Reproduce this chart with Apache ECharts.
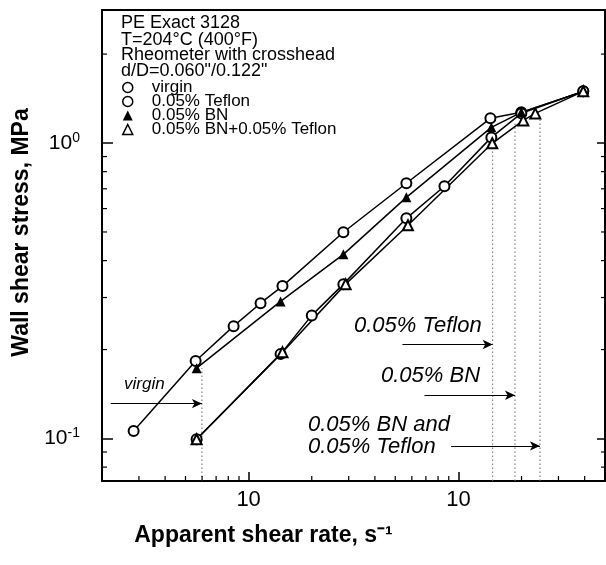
<!DOCTYPE html>
<html><head><meta charset="utf-8">
<script src="https://cdn.jsdelivr.net/npm/echarts@6/dist/echarts.min.js"></script>
<style>html,body{margin:0;padding:0;background:#fff}#c{width:606px;height:565px}</style>
</head><body><div id="c"></div>
<script>
// ---- data (apparent shear rate s^-1, wall shear stress MPa) ----
const virginX   = [28.3, 55.9, 84.8, 114, 145, 283, 565, 1421, 1995, 3939];
const virginY   = [0.106, 0.183, 0.240, 0.287, 0.328, 0.499, 0.731, 1.212, 1.27, 1.496];
const teflonX   = [56.5, 142, 200, 283, 565, 858, 1436, 1995, 3939];
const teflonY   = [0.0994, 0.193, 0.261, 0.333, 0.556, 0.714, 1.045, 1.26, 1.496];
const bnX       = [56.5, 142, 283, 565, 1436, 1995, 3939];
const bnY       = [0.173, 0.291, 0.420, 0.655, 1.130, 1.27, 1.496];
const bnTefX    = [56.5, 145, 290, 575, 1450, 2040, 2326, 3939];
const bnTefY    = [0.0994, 0.196, 0.333, 0.527, 0.998, 1.193, 1.26, 1.496];
// critical shear rates (dotted lines) and their top stress
const critX     = [59.9, 1457, 1862, 2449];
const critTopY  = [0.173, 0.969, 1.163, 1.24];
// annotation arrows: start x and y (end x = critical shear rate)
const arrowX0   = [22, 541, 689, 923];
const arrowY    = [0.1313, 0.208, 0.1401, 0.0944];
// axes
const X_MIN = 20, X_MAX = 5000, Y_MIN = 0.0718, Y_MAX = 2.82;
const xMajor = [100, 1000];
const xMajorLabels = ['10', '10'];
const yMajor = [1, 0.1];
const yMajorLabels = ['{b|10}{s|0}', '{b|10}{s|-1}'];
const xMinor = [30, 40, 50, 60, 70, 80, 90, 200, 300, 400, 500, 600, 700, 800, 900, 2000, 3000, 4000];
const yMinor = [0.08, 0.09, 0.2, 0.3, 0.4, 0.5, 0.6, 0.7, 0.8, 0.9, 2];

const FONT = "'Liberation Sans', Arial, sans-serif";
const zip = (a, b) => a.map((v, i) => [v, b[i]]);
const isMajor = (v, arr) => arr.findIndex(m => Math.abs(Math.log10(v) - Math.log10(m)) < 1e-6);

const chart = echarts.init(document.getElementById('c'), null, {renderer: 'canvas'});

const lineBase = {
  type: 'line', xAxisIndex: 0, yAxisIndex: 0, symbolSize: 10,
  lineStyle: {color: '#000', width: 1.5}, z: 3, animation: false
};

// minor tick data: [x, y, side]  side 0=bottom,1=left,2=right
const minorData = [];
xMinor.forEach(v => minorData.push([v, Y_MIN, 0]));
yMinor.forEach(v => { minorData.push([X_MIN, v, 1]); minorData.push([X_MAX, v, 2]); });

const series = [
  Object.assign({}, lineBase, {name: 'virgin', data: zip(virginX, virginY), symbol: 'emptyCircle',
    itemStyle: {color: '#000', borderWidth: 1.5}}),
  Object.assign({}, lineBase, {name: '0.05% Teflon', data: zip(teflonX, teflonY), symbol: 'emptyCircle',
    itemStyle: {color: '#000', borderWidth: 1.5}}),
  Object.assign({}, lineBase, {name: '0.05% BN', data: zip(bnX, bnY), symbol: 'triangle',
    itemStyle: {color: '#000'}}),
  Object.assign({}, lineBase, {name: '0.05% BN+0.05% Teflon', data: zip(bnTefX, bnTefY), symbol: 'emptyTriangle',
    itemStyle: {color: '#000', borderWidth: 1.5}}),
  {
    type: 'custom', name: 'minorTicks', silent: true, clip: false, z: 5, animation: false,
    data: minorData, encode: {x: 0, y: 1},
    renderItem: function (params, api) {
      const p = api.coord([api.value(0), api.value(1)]);
      const side = api.value(2);
      let p2;
      if (side === 0) p2 = [p[0], p[1] - 5];
      else if (side === 1) p2 = [p[0] + 5, p[1]];
      else p2 = [p[0] - 4, p[1]];
      return {type: 'line', shape: {x1: p[0], y1: p[1], x2: p2[0], y2: p2[1]},
        style: {stroke: '#000', lineWidth: 1.2}};
    }
  }
];

// dotted critical lines with their annotation arrows
critX.forEach((x, i) => {
  series.push({type: 'line', name: 'crit' + i, data: [[x, Y_MIN], [x, critTopY[i]]], symbol: 'none',
    silent: true, animation: false, z: 2, lineStyle: {color: '#666', width: 1, type: [1.5, 2.5]},
    markLine: {silent: true, animation: false, symbol: ['none', 'arrow'], symbolSize: [7, 10],
      label: {show: false}, lineStyle: {color: '#000', width: 1.2, type: 'solid'},
      data: [[{coord: [arrowX0[i], arrowY[i]]}, {coord: [x, arrowY[i]]}]]}});
});

const texts = [
  {l: 121, t: 14, s: 'PE Exact 3128'},
  {l: 121, t: 31, s: 'T=204°C (400°F)'},
  {l: 121, t: 46, s: 'Rheometer with crosshead'},
  {l: 121, t: 62, s: 'd/D=0.060"/0.122"'}
];
const italic = [
  {l: 124, t: 376, s: 'virgin', fs: 17},
  {l: 354, t: 315, s: '0.05% Teflon', fs: 22},
  {l: 381, t: 365, s: '0.05% BN', fs: 22},
  {l: 308, t: 414, s: '0.05% BN and', fs: 22},
  {l: 308, t: 436, s: '0.05% Teflon', fs: 22}
];

const graphic = [];
texts.forEach(o => graphic.push({type: 'text', left: o.l, top: o.t, silent: true,
  style: {text: o.s, font: '18px ' + FONT, fill: '#000'}}));
italic.forEach(o => graphic.push({type: 'text', left: o.l, top: o.t, silent: true,
  style: {text: o.s, font: 'italic ' + o.fs + 'px ' + FONT, fill: '#000'}}));

chart.setOption({
  backgroundColor: '#fff',
  animation: false,
  grid: {left: 102, right: 1, top: 10, bottom: 84, containLabel: false},
  legend: {
    orient: 'vertical', left: 122, top: 79, itemGap: -3, itemWidth: 10, itemHeight: 10,
    padding: 0, selectedMode: false,
    textStyle: {fontFamily: FONT, fontSize: 17, color: '#000', padding: [0, 0, 0, 14]},
    data: [
      {name: 'virgin', icon: 'circle', itemStyle: {color: '#fff', borderColor: '#000', borderWidth: 1.5}},
      {name: '0.05% Teflon', icon: 'circle', itemStyle: {color: '#fff', borderColor: '#000', borderWidth: 1.5}},
      {name: '0.05% BN', icon: 'triangle', itemStyle: {color: '#000', borderColor: '#000', borderWidth: 0}},
      {name: '0.05% BN+0.05% Teflon', icon: 'triangle', itemStyle: {color: '#fff', borderColor: '#000', borderWidth: 1.5}}
    ]
  },
  xAxis: [
    {type: 'log', logBase: 10, min: X_MIN, max: X_MAX, position: 'bottom',
      name: 'Apparent shear rate, s⁻¹', nameLocation: 'middle', nameGap: 43,
      nameTextStyle: {fontFamily: FONT, fontWeight: 'bold', fontSize: 23, color: '#000', padding: [0, 180, 0, 0]},
      axisLine: {lineStyle: {color: '#000', width: 2}},
      axisTick: {inside: true, length: 9, lineStyle: {color: '#000', width: 1.5}},
      axisLabel: {fontFamily: FONT, fontSize: 22, color: '#000', margin: 8, showMinLabel: false, showMaxLabel: false,
        formatter: v => { const i = isMajor(v, xMajor); return i >= 0 ? xMajorLabels[i] : ''; }},
      splitLine: {show: false}},
    {type: 'log', logBase: 10, min: X_MIN, max: X_MAX, position: 'top',
      axisLine: {lineStyle: {color: '#000', width: 2}}, axisTick: {show: false}, axisLabel: {show: false},
      splitLine: {show: false}}
  ],
  yAxis: [
    {type: 'log', logBase: 10, min: Y_MIN, max: Y_MAX, position: 'left',
      name: 'Wall shear stress, MPa', nameLocation: 'middle', nameGap: 55, nameRotate: 90,
      nameTextStyle: {fontFamily: FONT, fontWeight: 'bold', fontSize: 23, color: '#000', padding: [0, 0, 0, 26]},
      axisLine: {lineStyle: {color: '#000', width: 2}},
      axisTick: {inside: true, length: 11, lineStyle: {color: '#000', width: 1.5}},
      axisLabel: {margin: 22, showMinLabel: false, showMaxLabel: false,
        formatter: v => { const i = isMajor(v, yMajor); return i >= 0 ? yMajorLabels[i] : ''; },
        rich: {b: {fontFamily: FONT, fontSize: 21, color: '#000'},
               s: {fontFamily: FONT, fontSize: 14, color: '#000', verticalAlign: 'top', padding: [0, 0, 10, 0]}}},
      splitLine: {show: false}},
    {type: 'log', logBase: 10, min: Y_MIN, max: Y_MAX, position: 'right',
      axisLine: {lineStyle: {color: '#000', width: 2}},
      axisTick: {inside: true, length: 8, lineStyle: {color: '#000', width: 1.5}},
      axisLabel: {show: false}, splitLine: {show: false}}
  ],
  graphic: graphic,
  series: series
});
</script></body></html>
